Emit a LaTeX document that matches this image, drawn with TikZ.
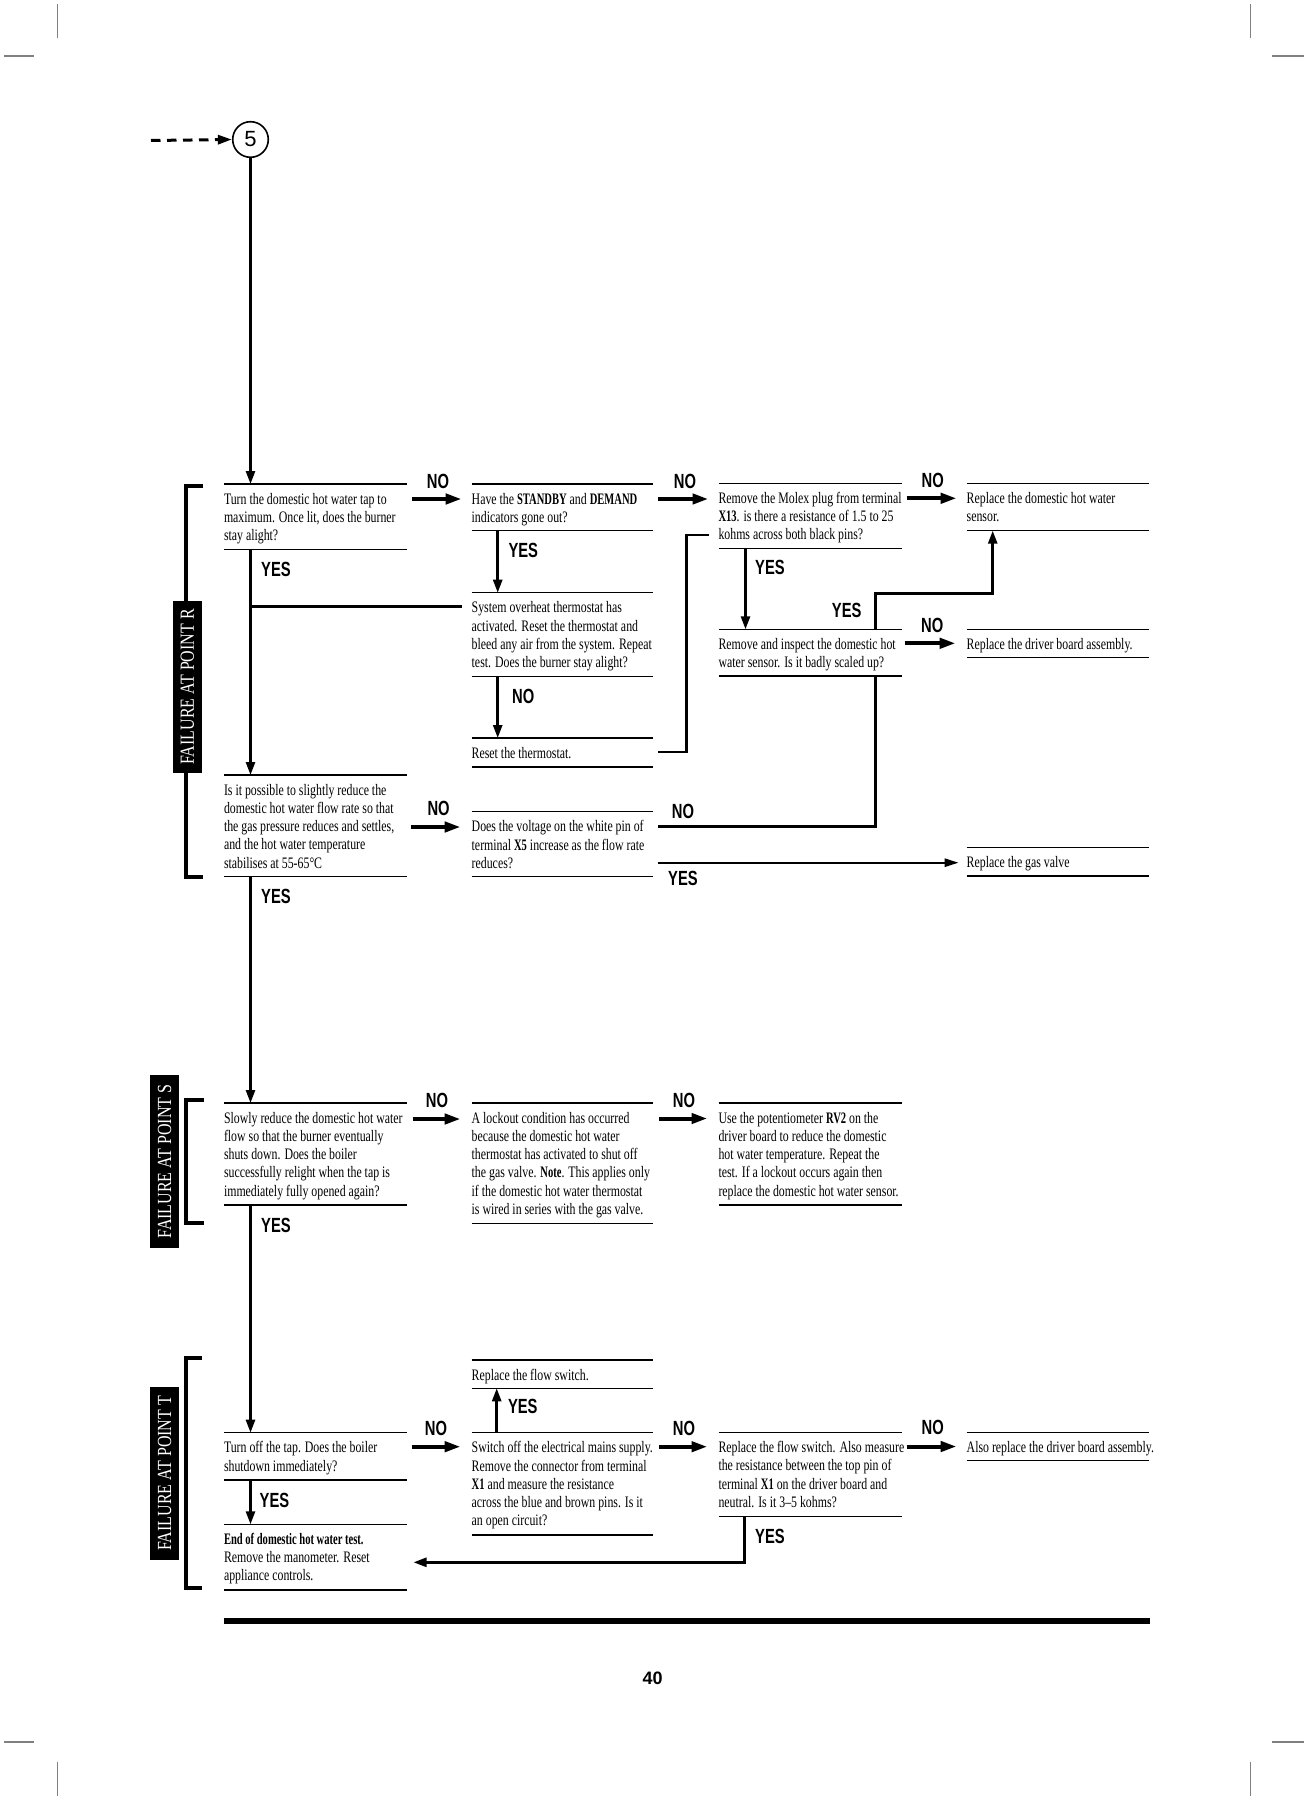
\documentclass[tikz,border=0pt]{standalone}
\usepackage{fontspec}
\usetikzlibrary{arrows.meta,calc}
\newfontfamily\bodyserif{Liberation Serif}[FakeStretch=0.74]
\newfontfamily\bodybold{Liberation Serif}[FakeStretch=0.66]
\newfontfamily\lblsans{Liberation Sans}[FakeStretch=0.72]
\newfontfamily\ptserif{Liberation Serif}[FakeStretch=0.8]
\newfontfamily\plainsans{Liberation Sans}
\newcommand\bb[1]{{\bodybold\bfseries #1}}
\tikzset{
  frame/.style={anchor=north west, inner sep=0pt, outer sep=0pt, draw=none},
  txt/.style={anchor=base west, inner sep=0pt, outer sep=0pt, font=\bodyserif\fontsize{16}{18.3}\selectfont},
  rule/.style={line width=1.1pt},
  conn/.style={line width=2.6pt},
  varr/.style={line width=2.6pt, -{Triangle[length=13pt,width=9pt]}},
  noarr/.style={line width=4pt, -{Triangle[length=16pt,width=10pt]}},
  lbl/.style={inner sep=0pt, font=\lblsans\bfseries\fontsize{20.5}{20.5}\selectfont},
  brk/.style={line width=4pt, line join=miter},
  ptbox/.style={fill=black, text=white, rotate=90, inner sep=0pt, font=\ptserif\fontsize{20}{20}\selectfont},
  crop/.style={draw=gray, line width=1.2pt},
}
\newcommand\flowbox[6]{%
  \node[frame, minimum width={#3-#2}, minimum height={#5-#4}] (#1) at (#2,#4) {};
  \draw[rule] (#1.north west) -- (#1.north east);
  \draw[rule] (#1.south west) -- (#1.south east);
  \node[txt] (#1t) at ($(#1.north west)+(0,20)$) {\begin{tabular}[t]{@{}l@{}}#6\end{tabular}};
}
\begin{document}
\begin{tikzpicture}[x=1pt,y=-1pt]
\fill[white] (0,0) rectangle (1304,1798);
\useasboundingbox (0,0) rectangle (1304,1798);
% crop marks
\draw[crop] (57.5,4) -- (57.5,38);
\draw[crop] (1250.5,4) -- (1250.5,38);
\draw[crop, line width=1.8pt] (4,56) -- (34,56);
\draw[crop, line width=1.8pt] (1272,56) -- (1304,56);
\draw[crop, line width=1.8pt] (4,1741.7) -- (34,1741.7);
\draw[crop, line width=1.8pt] (1272,1741.7) -- (1304,1741.7);
\draw[crop] (57.5,1762) -- (57.5,1796);
\draw[crop] (1250.5,1762) -- (1250.5,1796);

% start circle
\node[circle, draw, line width=1.6pt, minimum size=35.6pt, inner sep=0pt, font=\plainsans\fontsize{22}{22}\selectfont] (c5) at (250.5,139.5) {5};
\coordinate (dstart) at (151,140.5);
\draw[line width=3pt, dash pattern=on 9.5pt off 6.5pt, -{Triangle[length=14pt,width=9pt]}] (dstart) -- (c5.west);

% boxes
\flowbox{b1}{224}{406.5}{484}{549.3}{Turn the domestic hot water tap to\\maximum. Once lit, does the burner\\stay alight?}
\flowbox{b2}{471.7}{653.3}{484}{530.7}{Have the \bb{STANDBY} and \bb{DEMAND}\\indicators gone out?}
\flowbox{b3}{471.7}{653.3}{592.7}{676.7}{System overheat thermostat has\\activated. Reset the thermostat and\\bleed any air from the system. Repeat\\test. Does the burner stay alight?}
\flowbox{b4}{471.7}{653.3}{738}{767}{Reset the thermostat.}
\flowbox{b5}{718.5}{901.7}{483.3}{548.3}{Remove the Molex plug from terminal\\\bb{X13}. is there a resistance of 1.5 to 25\\kohms across both black pins?}
\flowbox{b6}{718.5}{901.7}{629.3}{676}{Remove and inspect the domestic hot\\water sensor. Is it badly scaled up?}
\flowbox{b7}{966.7}{1149}{483.3}{530.7}{Replace the domestic hot water\\sensor.}
\flowbox{b8}{966.7}{1149}{629.3}{657.7}{Replace the driver board assembly.}
\flowbox{b9}{224}{406.5}{775}{876.7}{Is it possible to slightly reduce the\\domestic hot water flow rate so that\\the gas pressure reduces and settles,\\and the hot water temperature\\stabilises at 55-65°C}
\flowbox{b10}{471.7}{653.3}{811.7}{876.7}{Does the voltage on the white pin of\\terminal \bb{X5} increase as the flow rate\\reduces?}
\flowbox{b11}{966.7}{1149}{847.3}{876}{Replace the gas valve}
\flowbox{b12}{224}{406.5}{1103}{1205}{Slowly reduce the domestic hot water\\flow so that the burner eventually\\shuts down. Does the boiler\\successfully relight when the tap is\\immediately fully opened again?}
\flowbox{b13}{471.7}{653.3}{1103}{1223.3}{A lockout condition has occurred\\because the domestic hot water\\thermostat has activated to shut off\\the gas valve. \bb{Note}. This applies only\\if the domestic hot water thermostat\\is wired in series with the gas valve.}
\flowbox{b14}{718.5}{901.7}{1103}{1205}{Use the potentiometer \bb{RV2} on the\\driver board to reduce the domestic\\hot water temperature. Repeat the\\test. If a lockout occurs again then\\replace the domestic hot water sensor.}
\flowbox{b15}{224}{406.5}{1432.7}{1480}{Turn off the tap. Does the boiler\\shutdown immediately?}
\flowbox{b16}{224}{406.5}{1524.3}{1590}{\bb{End of domestic hot water test.}\\Remove the manometer. Reset\\appliance controls.}
\flowbox{b17}{471.7}{653.3}{1432.7}{1535}{Switch off the electrical mains supply.\\Remove the connector from terminal\\\bb{X1} and measure the resistance\\across the blue and brown pins. Is it\\an open circuit?}
\flowbox{b18}{471.7}{653.3}{1360}{1388.3}{Replace the flow switch.}
\flowbox{b19}{718.5}{901.7}{1432.5}{1516.7}{Replace the flow switch. Also measure\\the resistance between the top pin of\\terminal \bb{X1} on the driver board and\\neutral. Is it 3–5 kohms?}
\flowbox{b20}{966.7}{1149}{1432.5}{1460.7}{Also replace the driver board assembly.}

% brackets and point labels
\draw[brk] (203,486) -- (186.3,486) -- (186.3,876.7) -- (203,876.7);
\draw[brk] (203.8,1100) -- (185.5,1100) -- (185.5,1222.7) -- (203.8,1222.7);
\draw[brk] (202,1358.3) -- (185.5,1358.3) -- (185.5,1588.3) -- (202,1588.3);
\node[ptbox, minimum width=172.6pt, minimum height=29.5pt] (pR) at (187.25,687) {FAILURE AT POINT R};
\node[ptbox, minimum width=173.3pt, minimum height=28.3pt] (pS) at (164.5,1161.7) {FAILURE AT POINT S};
\node[ptbox, minimum width=173.3pt, minimum height=28.3pt] (pT) at (164.5,1473.3) {FAILURE AT POINT T};

% spine
\draw[varr] (c5.south) -- (c5.south |- b1.north);
\draw[varr] (c5.south |- b1.south) -- (c5.south |- b9.north);
\coordinate (j1) at ($(b3.north west)+(-10,14)$);
\draw[conn] (j1) -- (j1 -| c5.south);
\draw[varr] (c5.south |- b9.south) -- (c5.south |- b12.north);
\draw[varr] (c5.south |- b12.south) -- (c5.south |- b15.north);
\draw[varr] (c5.south |- b15.south) -- (c5.south |- b16.north);

% NO arrows
\coordinate (p1) at ($(b1.north east)+(5,15)$);
\draw[noarr] (p1) -- ($(p1 -| b2.west)+(-10,0)$);
\coordinate (p2) at ($(b2.north east)+(5,15)$);
\draw[noarr] (p2) -- ($(p2 -| b5.west)+(-10,0)$);
\coordinate (p5) at ($(b5.north east)+(5,15)$);
\draw[noarr] (p5) -- ($(p5 -| b7.west)+(-10,0)$);
\coordinate (p6) at ($(b6.north east)+(3,14)$);
\draw[noarr] (p6) -- ($(p6 -| b8.west)+(-11,0)$);
\coordinate (p9) at ($(b9.north east)+(4,52)$);
\draw[noarr] (p9) -- ($(p9 -| b10.west)+(-11,0)$);
\coordinate (p12) at ($(b12.north east)+(6,16)$);
\draw[noarr] (p12) -- ($(p12 -| b13.west)+(-11,0)$);
\coordinate (p13) at ($(b13.north east)+(6,15.5)$);
\draw[noarr] (p13) -- ($(p13 -| b14.west)+(-11,0)$);
\coordinate (p15) at ($(b15.north east)+(5,14)$);
\draw[noarr] (p15) -- ($(p15 -| b17.west)+(-11,0)$);
\coordinate (p17) at ($(b17.north east)+(6,14)$);
\draw[noarr] (p17) -- ($(p17 -| b19.west)+(-11,0)$);
\coordinate (p19) at ($(b19.north east)+(5,14)$);
\draw[noarr] (p19) -- ($(p19 -| b20.west)+(-10,0)$);

% vertical YES / NO arrows
\draw[varr] ($(b2.south west)+(26,0)$) -- ($(b3.north west)+(26,0)$);
\draw[varr] ($(b3.south west)+(26,0)$) -- ($(b4.north west)+(26,0)$);
\draw[varr] ($(b5.south west)+(27,0)$) -- ($(b6.north west)+(27,0)$);
\draw[varr] ($(b6.north west)+(157,0)$) -- ++(0,-36) -| ($(b7.south west)+(26,0)$);
\draw[varr] ($(b17.north west)+(25,0)$) -- ($(b18.south west)+(25,0)$);
\draw[varr] ($(b19.south west)+(26,0)$) |- ($(b16.north east)+(7,38)$);

% other connectors
\draw[conn] ($(b4.north east)+(5,14)$) -- ++(28,0) |- ($(b5.north west)+(-10,51.5)$);
\draw[conn] ($(b6.south west)+(157,0)$) |- ($(b10.north east)+(5,15)$);
\coordinate (p10) at ($(b10.north east)+(5,51)$);
\draw[line width=2.4pt, -{Triangle[length=14pt,width=8pt]}] (p10) -- ($(p10 -| b11.west)+(-8,0)$);

% labels
\node[lbl] (n1) at (438,481.7) {NO};
\node[lbl] (n2) at (685,481.7) {NO};
\node[lbl] (n3) at (932.7,480) {NO};
\node[lbl] (n4) at (932.3,625) {NO};
\node[lbl] (n5) at (523.3,696.7) {NO};
\node[lbl] (n6) at (438.6,808.3) {NO};
\node[lbl] (n7) at (683,811) {NO};
\node[lbl] (n8) at (437,1100.7) {NO};
\node[lbl] (n9) at (684,1100.7) {NO};
\node[lbl] (n10) at (436,1428.3) {NO};
\node[lbl] (n11) at (684,1428.3) {NO};
\node[lbl] (n12) at (932.7,1427.3) {NO};
\node[lbl] (y1) at (276,569) {YES};
\node[lbl] (y2) at (523.3,550) {YES};
\node[lbl] (y3) at (770,567.3) {YES};
\node[lbl] (y4) at (846.7,610) {YES};
\node[lbl] (y5) at (276,896) {YES};
\node[lbl] (y6) at (683,878.3) {YES};
\node[lbl] (y7) at (276,1225.5) {YES};
\node[lbl] (y8) at (274.5,1500) {YES};
\node[lbl] (y9) at (522.8,1406.7) {YES};
\node[lbl] (y10) at (770,1536) {YES};

% bottom bar and page number
\draw[line width=6pt] (223.6,1621) -- (1150.3,1621);
\node[inner sep=0pt, font=\plainsans\bfseries\fontsize{18}{18}\selectfont] (pg) at (652.6,1678) {40};
\end{tikzpicture}
\end{document}
